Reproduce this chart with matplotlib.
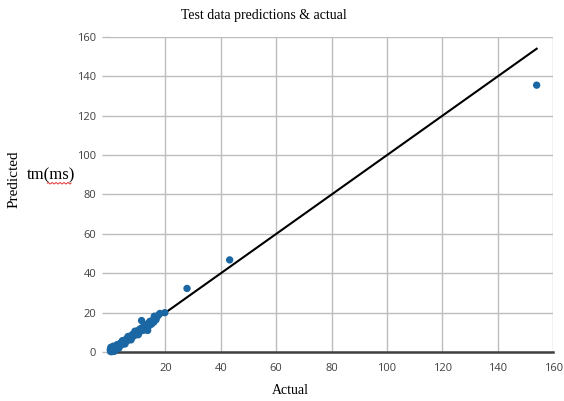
import numpy as np
import matplotlib.pyplot as plt

# test set: measured vs predicted tm (ms)
actual = [0.2, 0.4, 0.6, 0.9, 1.0, 1.3, 1.5, 1.8, 2.0, 2.2, 2.5, 2.8, 3.0, 3.3,
          3.6, 3.9, 4.1, 4.4, 4.7, 5.0, 5.2, 5.5, 5.8, 6.1, 6.4, 6.7, 7.0, 7.2,
          7.5, 7.8, 8.1, 8.4, 8.7, 9.0, 9.3, 9.6, 10.0, 10.3, 10.7, 11.0, 11.4,
          11.8, 12.2, 12.6, 13.0, 13.4, 13.8, 14.2, 14.6, 15.0, 15.4, 15.8,
          16.2, 16.6, 17.0, 17.5, 18.0, 11.4, 14.4, 13.6, 9.0, 6.5, 4.5, 2.6,
          1.0, 3.2, 5.4, 7.6, 10.2, 12.4, 16.0, 0.5, 1.6, 2.0, 0.1, 0.3, 1.2,
          19.8, 27.8, 43.2, 154.0]
predicted = [0.3, 1.0, 0.2, 1.5, 0.5, 2.1, 0.9, 1.4, 2.8, 1.8, 3.1, 2.2, 3.6, 2.9,
             4.3, 3.5, 4.8, 4.0, 5.4, 4.6, 5.9, 5.1, 6.5, 5.6, 7.0, 6.3, 7.5, 6.8,
             8.2, 7.4, 8.9, 8.0, 9.4, 8.6, 10.2, 9.1, 10.8, 9.9, 11.6, 10.5, 12.2,
             11.2, 12.9, 12.0, 13.7, 12.6, 14.6, 13.5, 15.3, 14.2, 16.1, 15.2,
             17.0, 16.4, 17.9, 18.8, 19.6, 16.0, 15.6, 11.0, 10.6, 7.9, 5.8, 3.8,
             2.2, 2.0, 4.1, 6.2, 8.8, 11.2, 18.2, 0.6, 0.4, 2.2, 1.2, 2.4, 3.0,
             20.0, 32.3, 46.8, 135.5]
fit_x = [0, 154]
fit_y = [0, 154]

fig = plt.figure(figsize=(5.64, 4.01), dpi=100)
ax = fig.add_axes([0.195, 0.122, 0.786, 0.786])

ax.plot(fit_x, fit_y, color='black', lw=1.5, zorder=2)
ax.scatter(actual, predicted, s=28, color='#1a67a3', edgecolors='none', zorder=3,
           clip_on=False)

ax.set_xlim(0, 160)
ax.set_ylim(0, 160)
ax.set_xticks(np.arange(20, 161, 20))
ax.set_yticks(np.arange(0, 161, 20))
ax.grid(True, color='#bdbdbd', lw=1.0, zorder=0)
ax.set_axisbelow(True)

for s in ['left', 'top', 'right']:
    ax.spines[s].set_visible(False)
ax.spines['bottom'].set_color('#404040')
ax.spines['bottom'].set_linewidth(1.8)

ax.tick_params(axis='x', length=0, pad=8, labelsize=8, labelcolor='#404040')
ax.tick_params(axis='y', length=6, width=1.0, color='#bdbdbd', pad=4,
               labelsize=8, labelcolor='#404040')
for lab in ax.get_xticklabels() + ax.get_yticklabels():
    lab.set_fontfamily('Open Sans')

serif = 'Liberation Serif'
fig.text(0.467, 0.962, 'Test data predictions & actual', ha='center', va='center',
         family=serif, fontsize=10)
fig.text(0.514, 0.027, 'Actual', ha='center', va='center', family=serif, fontsize=10)
fig.text(0.025, 0.554, 'Predicted', ha='center', va='center', rotation=90,
         family=serif, fontsize=11)
fig.text(0.091, 0.563, 'tm(ms)', ha='center', va='center', family=serif, fontsize=12)

# spellcheck squiggle under "ms"
wx = np.linspace(0.084, 0.126, 40)
fig.add_artist(plt.Line2D(wx, 0.543 + 0.0018 * np.sin(wx * 900), color='#e03030', lw=0.7))

fig.savefig('out.png', dpi=100)
